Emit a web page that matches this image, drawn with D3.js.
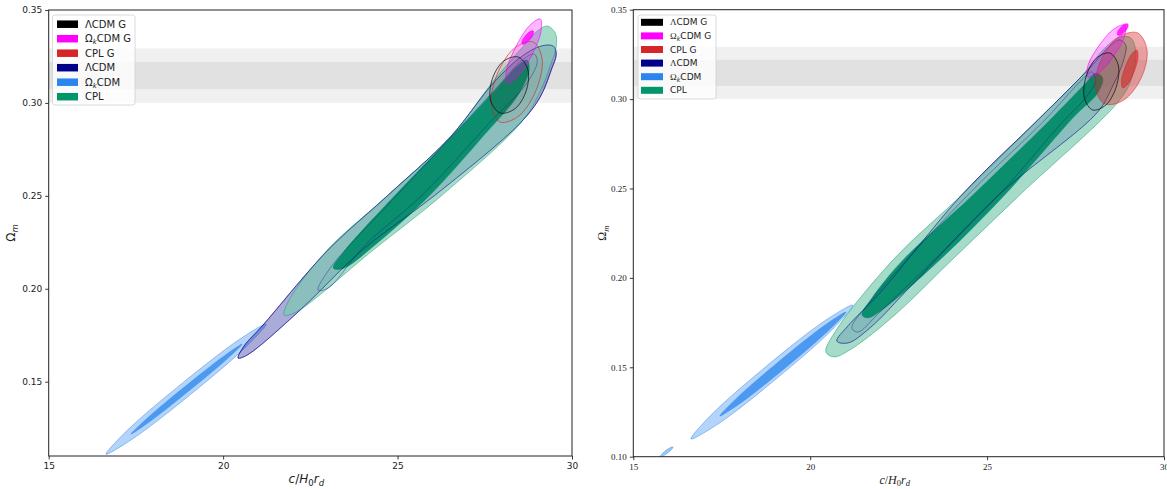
<!DOCTYPE html>
<html>
<head>
<meta charset="utf-8">
<script src="https://cdn.jsdelivr.net/npm/d3@7"></script>
<style>body{margin:0;background:#fff}</style>
</head>
<body>
<svg id="viz" width="1167" height="489"></svg>
<script>
// tick values
var xTicks = [15, 20, 25, 30];
var leftYTicks = [0.15, 0.20, 0.25, 0.30, 0.35];
var rightYTicks = [0.10, 0.15, 0.20, 0.25, 0.30, 0.35];

// Omega_m prior bands (2 sigma, 1 sigma)
var omegaBand2 = [0.3001, 0.3293];
var omegaBand1 = [0.3074, 0.3220];

var legendLabels = ["ΛCDM G", "ΩkCDM G", "CPL G", "ΛCDM", "ΩkCDM", "CPL"];

// contour outlines, [c/H0rd, Omega_m]
// left panel
var leftOk2 = [[21.232,0.1810],[20.650,0.1687],[19.064,0.1431],[17.403,0.1192],[16.643,0.1110],[17.225,0.1233],[18.811,0.1489],[20.472,0.1728]];
var leftOk1 = [[20.543,0.1702],[20.113,0.1622],[19.006,0.1448],[17.865,0.1280],[17.360,0.1218],[17.790,0.1298],[18.897,0.1473],[20.039,0.1640]];
var leftL2 = [[20.429,0.1627],[20.601,0.1692],[21.117,0.1799],[22.981,0.2203],[24.730,0.2504],[26.509,0.2816],[27.770,0.3112],[28.573,0.3252],[29.118,0.3306],[29.462,0.3306],[29.548,0.3263],[29.405,0.3177],[29.089,0.3032],[28.516,0.2892],[26.078,0.2504],[23.985,0.2208],[22.207,0.1885],[20.687,0.1643]];
var leftL1 = [[22.723,0.1993],[23.067,0.2111],[24.960,0.2499],[26.566,0.2822],[27.885,0.3091],[28.573,0.3231],[28.918,0.3263],[29.003,0.3220],[28.688,0.3102],[27.656,0.2897],[25.705,0.2504],[24.071,0.2235],[23.010,0.2004]];
var leftC2 = [[21.748,0.1858],[21.891,0.1939],[22.981,0.2208],[24.730,0.2504],[26.509,0.2816],[27.770,0.3123],[28.516,0.3285],[28.975,0.3382],[29.290,0.3414],[29.520,0.3376],[29.548,0.3301],[29.376,0.3199],[29.118,0.3075],[28.602,0.2908],[26.279,0.2504],[24.300,0.2208],[22.092,0.1875]];
var leftC1 = [[23.153,0.2111],[23.497,0.2208],[24.931,0.2504],[26.509,0.2811],[27.856,0.3080],[28.430,0.3199],[28.717,0.3231],[28.774,0.3177],[28.459,0.3043],[27.484,0.2827],[25.935,0.2504],[24.358,0.2235],[23.411,0.2106]];
var leftCG = [[28.889,0.3328],[29.144,0.3234],[28.972,0.3069],[28.476,0.2930],[27.942,0.2897],[27.687,0.2991],[27.859,0.3156],[28.355,0.3295]];
var leftOG2 = [[29.089,0.3452],[29.112,0.3385],[28.846,0.3257],[28.444,0.3142],[28.143,0.3107],[28.120,0.3173],[28.387,0.3301],[28.788,0.3417]];
var leftOG1 = [[28.889,0.3387],[28.889,0.3369],[28.797,0.3342],[28.665,0.3320],[28.573,0.3317],[28.573,0.3335],[28.665,0.3362],[28.797,0.3384]];
var leftLG = [[28.459,0.3247],[28.731,0.3182],[28.691,0.3067],[28.367,0.2969],[27.942,0.2946],[27.670,0.3011],[27.710,0.3126],[28.034,0.3224]];

// right panel
var rightOk2 = [[21.206,0.1848],[20.638,0.1714],[19.062,0.1439],[17.401,0.1184],[16.630,0.1099],[17.198,0.1233],[18.774,0.1508],[20.435,0.1763]];
var rightOk2b = [[16.121,0.1054],[16.085,0.1041],[15.963,0.1020],[15.825,0.1002],[15.754,0.0998],[15.791,0.1011],[15.912,0.1033],[16.051,0.1051]];
var rightOk1 = [[21.009,0.1809],[20.542,0.1710],[19.311,0.1499],[18.028,0.1299],[17.449,0.1228],[17.915,0.1326],[19.147,0.1538],[20.429,0.1738]];
var rightL2 = [[20.754,0.1647],[21.065,0.1731],[21.969,0.1916],[24.285,0.2464],[26.489,0.2894],[27.901,0.3174],[28.466,0.3297],[28.749,0.3331],[28.918,0.3303],[28.862,0.3219],[28.523,0.3062],[28.127,0.2928],[25.331,0.2464],[22.873,0.1960],[21.687,0.1720],[21.065,0.1636]];
var rightL1 = [[21.178,0.1720],[21.545,0.1832],[24.455,0.2464],[26.630,0.2883],[27.675,0.3107],[27.958,0.3152],[28.071,0.3107],[27.845,0.3023],[27.054,0.2855],[25.331,0.2464],[21.969,0.1809],[21.348,0.1697]];
var rightC2 = [[20.444,0.1586],[20.698,0.1697],[22.336,0.2100],[24.285,0.2464],[26.489,0.2894],[27.675,0.3129],[28.353,0.3291],[28.749,0.3347],[29.059,0.3342],[29.201,0.3269],[29.088,0.3118],[28.749,0.2995],[25.924,0.2464],[23.946,0.2089],[22.393,0.1793],[21.206,0.1608],[20.670,0.1558]];
var rightC1 = [[21.461,0.1793],[21.743,0.1888],[22.619,0.2100],[24.596,0.2464],[26.771,0.2883],[27.760,0.3084],[28.071,0.3146],[28.269,0.3118],[28.127,0.3034],[27.478,0.2905],[25.500,0.2464],[23.664,0.2100],[22.110,0.1832],[21.630,0.1776]];
var rightCG2 = [[29.257,0.3370],[29.520,0.3275],[29.356,0.3119],[28.859,0.2994],[28.325,0.2973],[28.062,0.3067],[28.229,0.3223],[28.723,0.3348]];
var rightCG1 = [[29.229,0.3275],[29.266,0.3237],[29.164,0.3159],[28.986,0.3086],[28.834,0.3062],[28.797,0.3100],[28.899,0.3178],[29.077,0.3250]];
var rightOG2 = [[28.890,0.3414],[28.884,0.3351],[28.574,0.3240],[28.144,0.3145],[27.845,0.3124],[27.850,0.3187],[28.161,0.3298],[28.591,0.3393]];
var rightOG1 = [[28.975,0.3420],[28.978,0.3403],[28.896,0.3378],[28.777,0.3359],[28.692,0.3358],[28.689,0.3375],[28.772,0.3400],[28.890,0.3419]];
var rightLG = [[28.466,0.3258],[28.704,0.3193],[28.658,0.3073],[28.362,0.2968],[27.986,0.2939],[27.752,0.3004],[27.794,0.3124],[28.091,0.3229]];

var col = {lg: "#000000", og: "#ff00ff", cg: "#d62728", l: "#00008b", ok: "#2a85ee", c: "#00966a"};
var legendColors = [col.lg, col.og, col.cg, col.l, col.ok, col.c];
var cLight = "#7ac9af", cDark = "#008a66";

var svg = d3.select("#viz");

function layer(pts, color, fill, stroke, fillColor) {
	return {pts: pts, color: color, fill: fill, stroke: stroke, fillColor: fillColor || color};
}

function addLabel(t, label, serifGreek) {
	var m = label.match(/^(Ωk|Λ)?(.*)$/);
	var greekFont = serifGreek ? "Liberation Serif" : null;
	if (m[1] === "Ωk") {
		t.append("tspan").attr("font-family", greekFont).text("Ω");
		t.append("tspan").attr("font-size", "0.7em").attr("font-style", "italic").attr("dy", 2).text("k");
		t.append("tspan").attr("dy", -2).text(m[2]);
	} else if (m[1] === "Λ") {
		t.append("tspan").attr("font-family", greekFont).text("Λ");
		t.append("tspan").text(m[2]);
	} else {
		t.text(m[2]);
	}
}

function panel(opt) {
	var p = {};
	p.x = d3.scaleLinear().domain([15, 30]).range([opt.left, opt.right]);
	p.y = d3.scaleLinear().domain(opt.yDomain).range([opt.bottom, opt.top]);

	var g = svg.append("g");
	g.append("clipPath").attr("id", "clip" + opt.name)
		.append("rect")
			.attr("x", opt.left).attr("y", opt.top)
			.attr("width", opt.right - opt.left).attr("height", opt.bottom - opt.top);

	var plot = g.append("g").attr("clip-path", "url(#clip" + opt.name + ")");

	// prior bands
	plot.selectAll(".band")
		.data([omegaBand2, omegaBand1])
		.enter().append("rect")
			.attr("class", "band")
			.attr("x", opt.left)
			.attr("width", opt.right - opt.left)
			.attr("y", function(d) { return p.y(d[1]); })
			.attr("height", function(d) { return p.y(d[0]) - p.y(d[1]); })
			.attr("fill", "#000")
			.attr("fill-opacity", 0.06);

	var line = d3.line()
		.x(function(d) { return p.x(d[0]); })
		.y(function(d) { return p.y(d[1]); })
		.curve(d3.curveCatmullRomClosed.alpha(0.5));

	plot.selectAll(".contour")
		.data(opt.layers)
		.enter().append("path")
			.attr("class", "contour")
			.attr("d", function(d) { return line(d.pts); })
			.attr("fill", function(d) { return d.fill > 0 ? d.fillColor : "none"; })
			.attr("fill-opacity", function(d) { return d.fill; })
			.attr("stroke", function(d) { return d.color; })
			.attr("stroke-opacity", function(d) { return d.stroke; })
			.attr("stroke-width", 0.9);

	// axes
	var ax = g.append("g")
		.attr("transform", "translate(0," + opt.bottom + ")")
		.call(d3.axisBottom(p.x).tickValues(xTicks).tickSize(3.5).tickPadding(3).tickFormat(d3.format("d")));
	var ay = g.append("g")
		.attr("transform", "translate(" + opt.left + ",0)")
		.call(d3.axisLeft(p.y).tickValues(opt.yTicks).tickSize(3.5).tickPadding(3).tickFormat(d3.format(".2f")));
	[ax, ay].forEach(function(a) {
		a.select(".domain").remove();
		a.selectAll("text").attr("font-family", opt.font).attr("font-size", 9).attr("fill", "#222");
		a.selectAll("line").attr("stroke", "#222").attr("stroke-width", 0.9);
	});

	g.append("rect")
		.attr("x", opt.left).attr("y", opt.top)
		.attr("width", opt.right - opt.left).attr("height", opt.bottom - opt.top)
		.attr("fill", "none").attr("stroke", "#222").attr("stroke-width", 1);

	// axis titles
	var xt = g.append("text")
		.attr("x", (opt.left + opt.right) / 2 - 4)
		.attr("y", opt.bottom + 27)
		.attr("text-anchor", "middle")
		.attr("font-family", opt.font)
		.attr("font-size", 12)
		.attr("fill", "#222");
	xt.append("tspan").attr("font-style", "italic").text("c");
	xt.append("tspan").text("/");
	xt.append("tspan").attr("font-style", "italic").text("H");
	xt.append("tspan").attr("font-size", 8.5).attr("dy", 2.5).text("0");
	xt.append("tspan").attr("font-style", "italic").attr("dy", -2.5).text("r");
	xt.append("tspan").attr("font-size", 8.5).attr("font-style", "italic").attr("dy", 2.5).text("d");

	var yt = g.append("text")
		.attr("transform", "translate(" + opt.yTitleX + "," + ((opt.top + opt.bottom) / 2) + ") rotate(-90)")
		.attr("text-anchor", "middle")
		.attr("font-family", opt.font)
		.attr("font-size", 12)
		.attr("fill", "#222");
	yt.append("tspan").text("Ω");
	yt.append("tspan").attr("font-size", 8.5).attr("font-style", "italic").attr("dy", 2.5).text("m");

	// legend
	var lg = opt.legend;
	var leg = g.append("g");
	leg.append("rect")
		.attr("x", lg.x).attr("y", lg.y).attr("width", lg.w).attr("height", lg.h)
		.attr("rx", 2.5)
		.attr("fill", "#fff").attr("fill-opacity", 0.8)
		.attr("stroke", "#d0d0d0").attr("stroke-width", 0.8);
	var rows = leg.selectAll(".row")
		.data(legendLabels)
		.enter().append("g")
			.attr("class", "row")
			.attr("transform", function(d, i) { return "translate(0," + (lg.row0 + i * lg.step) + ")"; });
	rows.append("rect")
		.attr("x", lg.sx).attr("y", -lg.sh / 2)
		.attr("width", lg.sw).attr("height", lg.sh)
		.attr("fill", function(d, i) { return legendColors[i]; });
	rows.append("text")
		.attr("x", lg.tx)
		.attr("dy", "0.35em")
		.attr("font-family", "DejaVu Sans")
		.attr("font-size", lg.fs)
		.attr("fill", "#222")
		.each(function(d) { addLabel(d3.select(this), d, opt.serifGreek); });

	return p;
}

panel({
	name: "L", left: 48.7, right: 572, top: 10, bottom: 456,
	yDomain: [0.11, 0.35], yTicks: leftYTicks, font: "DejaVu Sans", yTitleX: 15, serifGreek: false,
	legend: {x: 52.5, y: 15, w: 82.5, h: 90, row0: 24.2, step: 14.5, sx: 57, sw: 21, sh: 7.5, tx: 85, fs: 10},
	layers: [
		layer(leftOk2, col.ok, 0.35, 0.5),
		layer(leftOk1, col.ok, 0.75, 0.4),
		layer(leftL2, col.l, 0.33, 0.55),
		layer(leftL1, col.l, 0.08, 0.3),
		layer(leftC2, col.c, 0.67, 0.5, cLight),
		layer(leftC1, col.c, 0.92, 0.3, cDark),
		layer(leftL2, col.l, 0, 0.5),
		layer(leftL1, col.l, 0, 0.3),
		layer(leftCG, col.cg, 0.05, 0.7),
		layer(leftOG2, col.og, 0.28, 0.7),
		layer(leftOG1, col.og, 0.8, 0.7),
		layer(leftLG, col.lg, 0.06, 0.75)
	]
});

panel({
	name: "R", left: 633.3, right: 1164, top: 9.7, bottom: 456.7,
	yDomain: [0.10, 0.35], yTicks: rightYTicks, font: "Liberation Serif", yTitleX: 606, serifGreek: true,
	legend: {x: 638, y: 15, w: 78, h: 84, row0: 22.3, step: 13.6, sx: 641, sw: 22, sh: 7, tx: 670, fs: 9},
	layers: [
		layer(rightOk2, col.ok, 0.35, 0.5),
		layer(rightOk2b, col.ok, 0.45, 0.5),
		layer(rightOk1, col.ok, 0.75, 0.4),
		layer(rightL2, col.l, 0.33, 0.55),
		layer(rightL1, col.l, 0.08, 0.3),
		layer(rightC2, col.c, 0.67, 0.5, cLight),
		layer(rightC1, col.c, 0.92, 0.3, cDark),
		layer(rightL2, col.l, 0, 0.5),
		layer(rightL1, col.l, 0, 0.3),
		layer(rightCG2, col.cg, 0.4, 0.6),
		layer(rightCG1, col.cg, 0.6, 0.6),
		layer(rightOG2, col.og, 0.28, 0.7),
		layer(rightOG1, col.og, 0.8, 0.7),
		layer(rightLG, col.lg, 0.06, 0.75)
	]
});
</script>
</body>
</html>
